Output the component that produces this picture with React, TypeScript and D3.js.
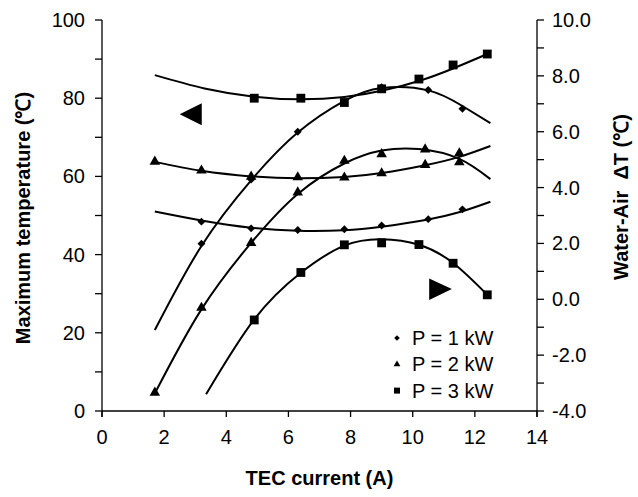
import * as d3 from "d3";

// current (A) at which each power level was measured
const currentP1 = [3.2, 4.8, 6.3, 7.8, 9.0, 10.5, 11.6];
const currentP2 = [1.7, 3.2, 4.8, 6.3, 7.8, 9.0, 10.4, 11.5];
const currentP3 = [4.9, 6.4, 7.8, 9.0, 10.2, 11.3, 12.4];

// maximum temperature (left axis)
const tempP1 = [42.8, 59.2, 71.4, 79.0, 82.8, 82.1, 77.3];
const tempP2 = [4.7, 26.4, 43.0, 55.9, 64.0, 65.7, 66.9, 63.6];
const tempP3 = [80.0, 80.0, 78.9, 82.4, 84.9, 88.5, 91.3];

// water-air delta T (right axis)
const dtP1 = [2.78, 2.54, 2.48, 2.51, 2.64, 2.87, 3.22];
const dtP2 = [4.93, 4.61, 4.39, 4.37, 4.36, 4.51, 4.81, 5.23];
const dtP3 = [-0.74, 0.96, 1.95, 2.02, 1.96, 1.29, 0.16];

// trend lines
const trendTempP1X = [1.7, 3.2, 4.8, 6.3, 7.8, 9.0, 10.5, 11.6, 12.5];
const trendTempP1Y = [20.7, 42.2, 59.0, 71.2, 79.3, 82.6, 82.0, 78.0, 73.6];
const trendTempP2X = [1.7, 3.2, 4.8, 6.3, 7.8, 9.0, 10.2, 11.5, 12.5];
const trendTempP2Y = [4.5, 26.0, 43.0, 55.5, 63.3, 66.6, 67.0, 64.5, 59.3];
const trendTempP3X = [1.7, 3.3, 4.9, 6.4, 7.8, 9.0, 10.2, 11.3, 12.4];
const trendTempP3Y = [85.9, 82.5, 80.4, 79.7, 80.3, 81.9, 84.4, 87.6, 91.3];
const trendDtP1X = [1.7, 3.2, 4.8, 6.3, 7.8, 9.0, 10.5, 11.6, 12.5];
const trendDtP1Y = [3.14, 2.82, 2.56, 2.45, 2.47, 2.6, 2.86, 3.15, 3.49];
const trendDtP2X = [1.7, 3.2, 4.8, 6.3, 7.8, 9.0, 10.4, 11.5, 12.5];
const trendDtP2Y = [4.92, 4.6, 4.4, 4.33, 4.38, 4.52, 4.8, 5.1, 5.49];
const trendDtP3X = [3.35, 4.9, 6.4, 7.8, 9.0, 10.2, 11.3, 12.4];
const trendDtP3Y = [-3.4, -0.72, 0.95, 1.92, 2.15, 1.95, 1.3, 0.16];

const xTicks = [0, 2, 4, 6, 8, 10, 12, 14];
const leftTicks = [0, 20, 40, 60, 80, 100];
const rightTicks = [-4, -2, 0, 2, 4, 6, 8, 10];
const legendLabels = ["P = 1 kW", "P = 2 kW", "P = 3 kW"];

const width = 638;
const height = 497;
const left = 102;
const right = 537;
const top = 20;
const bottom = 411;
const font = "'Liberation Sans', Arial, sans-serif";

const zip = (xs: number[], ys: number[]) => xs.map((x, i) => [x, ys[i]] as [number, number]);

const App = () => {
  const x = d3.scaleLinear().domain([0, 14]).range([left, right]);
  const yL = d3.scaleLinear().domain([0, 100]).range([bottom, top]);
  const yR = d3.scaleLinear().domain([-4, 10]).range([bottom, top]);

  const lineL = d3
    .line<[number, number]>()
    .x((d) => x(d[0]))
    .y((d) => yL(d[1]))
    .curve(d3.curveNatural);
  const lineR = d3
    .line<[number, number]>()
    .x((d) => x(d[0]))
    .y((d) => yR(d[1]))
    .curve(d3.curveNatural);

  const diamond = d3.symbol(d3.symbolDiamond2, 40)();
  const triangle = d3.symbol(d3.symbolTriangle, 48)();
  const square = d3.symbol(d3.symbolSquare, 78)();
  const diamondS = d3.symbol(d3.symbolDiamond2, 20)();
  const triangleS = d3.symbol(d3.symbolTriangle, 20)();
  const squareS = d3.symbol(d3.symbolSquare, 36)();

  const marks = (xs: number[], ys: number[], ys2: (v: number) => number, shape: string | null) =>
    xs.map((v, i) => (
      <path key={i} d={shape ?? ""} transform={`translate(${x(v)},${ys2(ys[i])})`} fill="#000" />
    ));

  const trends = [
    lineL(zip(trendTempP1X, trendTempP1Y)),
    lineL(zip(trendTempP2X, trendTempP2Y)),
    lineL(zip(trendTempP3X, trendTempP3Y)),
    lineR(zip(trendDtP1X, trendDtP1Y)),
    lineR(zip(trendDtP2X, trendDtP2Y)),
    lineR(zip(trendDtP3X, trendDtP3Y)),
  ];

  // axis-indicator arrows (left-axis units)
  const arrowLeft = [
    [2.5, 75.9],
    [3.21, 78.7],
    [3.21, 73.1],
  ];
  const arrowRight = [
    [11.26, 31.2],
    [10.53, 33.9],
    [10.53, 28.4],
  ];
  const poly = (pts: number[][]) => pts.map((p) => `${x(p[0])},${yL(p[1])}`).join(" ");

  return (
    <svg
      width={width}
      height={height}
      style={{ position: "absolute", left: 0, top: 0, background: "#fff" }}
      fontFamily={font}
    >
      {trends.map((d, i) => (
        <path key={i} d={d ?? ""} fill="none" stroke="#000" strokeWidth={2} />
      ))}
      {marks(currentP1, tempP1, yL, diamond)}
      {marks(currentP2, tempP2, yL, triangle)}
      {marks(currentP3, tempP3, yL, square)}
      {marks(currentP1, dtP1, yR, diamond)}
      {marks(currentP2, dtP2, yR, triangle)}
      {marks(currentP3, dtP3, yR, square)}

      <polygon points={poly(arrowLeft)} fill="#000" />
      <polygon points={poly(arrowRight)} fill="#000" />

      {/* axes */}
      <g stroke="#000" strokeWidth={1.3} fill="none">
        <line x1={left} x2={left} y1={top} y2={bottom + 6} />
        <line x1={right} x2={right} y1={top} y2={bottom + 6} />
        <line x1={left} x2={right} y1={bottom} y2={bottom} />
        {xTicks.map((t) => (
          <line key={t} x1={x(t)} x2={x(t)} y1={bottom} y2={bottom + 6} />
        ))}
        {d3.range(0, 101, 10).map((t) => (
          <line key={t} x1={left - 7} x2={left} y1={yL(t)} y2={yL(t)} />
        ))}
        {d3.range(-4, 11, 1).map((t) => (
          <line key={t} x1={right} x2={right + 7} y1={yR(t)} y2={yR(t)} />
        ))}
      </g>
      <g fontSize={20} fill="#000">
        {xTicks.map((t) => (
          <text key={t} x={x(t)} y={bottom + 33} textAnchor="middle">
            {t}
          </text>
        ))}
        {leftTicks.map((t) => (
          <text key={t} x={left - 17} y={yL(t) + 7} textAnchor="end">
            {t}
          </text>
        ))}
        {rightTicks.map((t) => (
          <text key={t} x={right + 15} y={yR(t) + 7}>
            {t.toFixed(1)}
          </text>
        ))}
      </g>

      {/* titles */}
      <g fontSize={20} fontWeight="bold" fill="#000">
        <text x={(left + right) / 2} y={485} textAnchor="middle">
          TEC current (A)
        </text>
        <text transform="translate(30,218) rotate(-90)" textAnchor="middle">
          Maximum temperature (℃)
        </text>
        <text transform="translate(628,197) rotate(-90)" textAnchor="middle" style={{ whiteSpace: "pre" }}>
          {"Water-Air  ΔT (℃)"}
        </text>
      </g>

      {/* legend */}
      <g fontSize={20} fill="#000">
        {legendLabels.map((lab, i) => (
          <g key={lab} transform={`translate(397,${338 + i * 26.3})`}>
            <path d={[diamondS, triangleS, squareS][i] ?? ""} fill="#000" />
            <text x={15} y={7}>
              {lab}
            </text>
          </g>
        ))}
      </g>
    </svg>
  );
};

export default App;
